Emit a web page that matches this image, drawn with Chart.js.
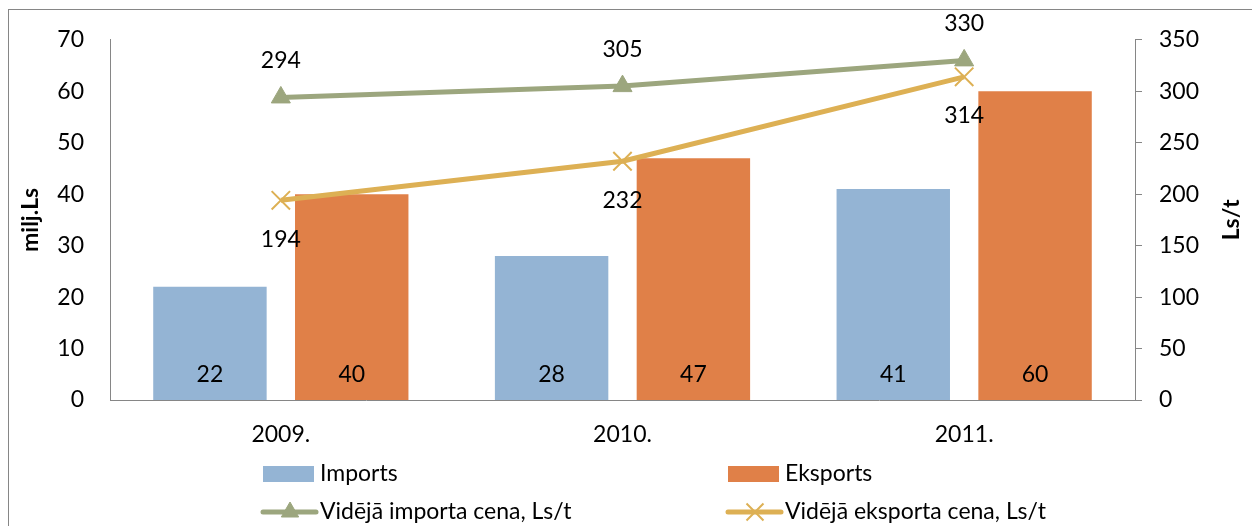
<!DOCTYPE html>
<html lang="lv">
<head>
<meta charset="utf-8">
<title>Imports un eksports</title>
<script src="https://cdn.jsdelivr.net/npm/chart.js@4.4.1/dist/chart.umd.min.js"></script>
<style>
  html, body { margin: 0; padding: 0; background: #fff; }
  #chart { display: block; }
</style>
</head>
<body>
<canvas id="chart" width="1252" height="526"></canvas>
<script>
const years = ['2009.', '2010.', '2011.'];
const imports = [22, 28, 41];
const exports = [40, 47, 60];
const importPrice = [294, 305, 330];
const exportPrice = [194, 232, 314];

const FONT = 'Lato, "Open Sans", sans-serif';
const AXIS_GRAY = '#868686';
const BLUE = '#94B4D4';
const ORANGE = '#E08048';
const OLIVE = '#9CA67E';
const GOLD = '#DDB054';

// value labels, axis titles, legend and frame
const decorations = {
    id: 'decorations',
    beforeDraw(chart) {
        const ctx = chart.ctx;
        ctx.save();
        ctx.fillStyle = '#fff';
        ctx.fillRect(0, 0, chart.width, chart.height);
        ctx.strokeStyle = AXIS_GRAY;
        ctx.lineWidth = 1;
        ctx.strokeRect(8.5, 9.5, chart.width + 20, chart.height + 20);
        ctx.restore();
    },
    afterDatasetsDraw(chart) {
        const ctx = chart.ctx;
        ctx.save();
        ctx.font = '23px ' + FONT;
        ctx.fillStyle = '#000';
        ctx.textAlign = 'center';
        ctx.textBaseline = 'middle';
        chart.data.datasets.forEach((ds, i) => {
            const meta = chart.getDatasetMeta(i);
            meta.data.forEach((el, j) => {
                const v = ds.data[j];
                let y;
                if (ds.type === 'bar') y = el.base - 25;
                else if (ds.labelPos === 'above') y = el.y - 37;
                else y = el.y + 39;
                ctx.fillText(String(v), el.x, y);
            });
        });
        ctx.restore();
    },
    afterDraw(chart) {
        const ctx = chart.ctx;
        const area = chart.chartArea;
        const midY = (area.top + area.bottom) / 2;
        ctx.save();
        ctx.fillStyle = '#000';
        ctx.font = 'bold 23px ' + FONT;
        ctx.textAlign = 'center';
        ctx.textBaseline = 'middle';
        [['milj.Ls', 31], ['Ls/t', 1232]].forEach(([text, x]) => {
            ctx.save();
            ctx.translate(x, midY);
            ctx.rotate(-Math.PI / 2);
            ctx.fillText(text, 0, 0);
            ctx.restore();
        });

        // legend: two rows, two columns
        const cols = [263, 728];
        const rows = [474, 512];
        ctx.font = '23px ' + FONT;
        ctx.textAlign = 'left';
        chart.data.datasets.forEach((ds, i) => {
            const x = cols[i % 2];
            const y = rows[Math.floor(i / 2)];
            if (ds.type === 'bar') {
                ctx.fillStyle = ds.backgroundColor;
                ctx.fillRect(x, y - 8, 51, 16);
            } else {
                ctx.strokeStyle = ds.borderColor;
                ctx.lineWidth = 5;
                ctx.lineCap = 'round';
                ctx.beginPath();
                ctx.moveTo(x, y);
                ctx.lineTo(x + 53, y);
                ctx.stroke();
                ctx.lineWidth = ds.pointBorderWidth;
                ctx.lineCap = 'butt';
                ctx.fillStyle = ds.borderColor;
                Chart.helpers.drawPoint(ctx, {
                    pointStyle: ds.pointStyle,
                    radius: ds.pointRadius - 1,
                    borderWidth: ds.pointBorderWidth,
                    rotation: 0
                }, x + 27, y);
            }
            ctx.fillStyle = '#000';
            ctx.fillText(ds.label, x + 57, y);
        });
        ctx.restore();
    }
};

new Chart(document.getElementById('chart'), {
    data: {
        labels: years,
        datasets: [
            {
                type: 'bar',
                label: 'Imports',
                data: imports,
                backgroundColor: BLUE,
                yAxisID: 'y',
                order: 2,
                barPercentage: 0.8,
                categoryPercentage: 0.83
            },
            {
                type: 'bar',
                label: 'Eksports',
                data: exports,
                backgroundColor: ORANGE,
                yAxisID: 'y',
                order: 2,
                barPercentage: 0.8,
                categoryPercentage: 0.83
            },
            {
                type: 'line',
                label: 'Vidējā importa cena, Ls/t',
                data: importPrice,
                borderColor: OLIVE,
                backgroundColor: OLIVE,
                borderWidth: 5,
                pointStyle: 'triangle',
                pointRadius: 11,
                pointBorderWidth: 1,
                pointBackgroundColor: OLIVE,
                pointBorderColor: OLIVE,
                yAxisID: 'y1',
                order: 1,
                labelPos: 'above'
            },
            {
                type: 'line',
                label: 'Vidējā eksporta cena, Ls/t',
                data: exportPrice,
                borderColor: GOLD,
                backgroundColor: GOLD,
                borderWidth: 5,
                pointStyle: 'crossRot',
                pointRadius: 13,
                pointBorderWidth: 2,
                pointBorderColor: GOLD,
                yAxisID: 'y1',
                order: 0,
                labelPos: 'below'
            }
        ]
    },
    options: {
        responsive: false,
        animation: false,
        events: [],
        layout: { padding: { top: 39, left: 0, right: 0, bottom: 0 } },
        plugins: {
            legend: { display: false },
            tooltip: { enabled: false }
        },
        scales: {
            x: {
                grid: { display: false, drawTicks: false },
                border: { display: true, color: AXIS_GRAY, width: 1 },
                ticks: { color: '#000', font: { family: FONT, size: 23 }, padding: 21 },
                afterFit(scale) { scale.height = 126; }
            },
            y: {
                position: 'left',
                min: 0,
                max: 70,
                grid: { display: false, drawTicks: false },
                border: { display: true, color: AXIS_GRAY, width: 1 },
                ticks: { stepSize: 10, color: '#000', font: { family: FONT, size: 23 }, padding: 26 },
                afterFit(scale) { scale.width = 110; }
            },
            y1: {
                position: 'right',
                min: 0,
                max: 350,
                grid: { drawOnChartArea: false, drawTicks: true, tickLength: 7, color: AXIS_GRAY },
                border: { display: true, color: AXIS_GRAY, width: 1 },
                ticks: { stepSize: 50, color: '#000', font: { family: FONT, size: 23 }, padding: 17 },
                afterFit(scale) { scale.width = 117; }
            }
        }
    },
    plugins: [decorations]
});
</script>
</body>
</html>
